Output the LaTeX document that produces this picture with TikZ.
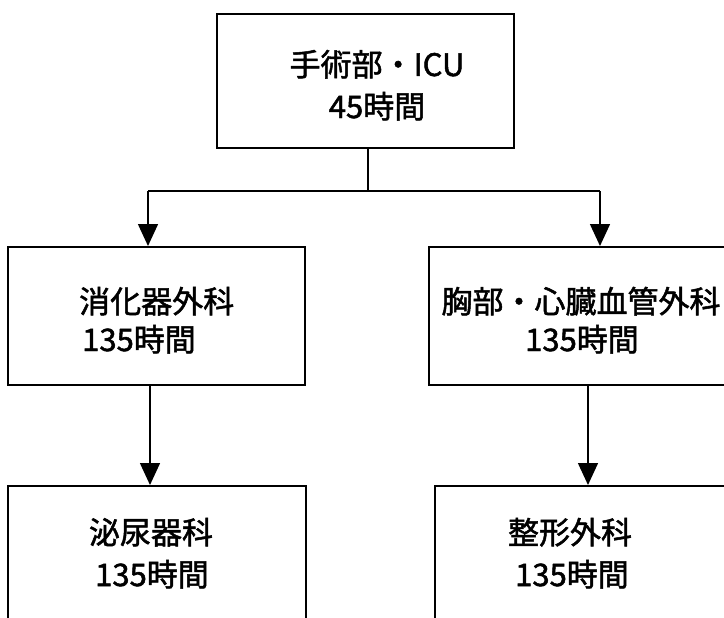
\documentclass[tikz,border=0pt]{standalone}
\usepackage{fontspec}
\setmainfont{Noto Sans CJK JP}[FakeBold=1.6]
\usetikzlibrary{arrows.meta}
\tikzset{
  box/.style={draw=black, line width=1.7pt, minimum width=#1, inner sep=0pt, anchor=north west},
  lbl/.style={inner sep=0pt, font=\fontsize{31}{31}\selectfont},
  conn/.style={draw=black, line width=1.5pt},
  arr/.style={conn, -{Triangle[width=20pt,length=22pt]}}
}
\begin{document}
\begin{tikzpicture}[x=1pt,y=-1pt]
\clip (0,0) rectangle (724,618);
\fill[white] (0,0) rectangle (724,618);
% boxes
\node[box=297pt, minimum height=134pt] (top) at (216,13) {};
\node[box=297pt, minimum height=138pt] (ml) at (7,246) {};
\node[box=320pt, minimum height=138pt] (mr) at (428,246) {};
\node[box=298pt, minimum height=160pt] (bl) at (7,485) {};
\node[box=310pt, minimum height=160pt] (br) at (434,485) {};
% texts
\node[lbl, anchor=base] (topa) at (377,76) {手術部・ICU};
\node[lbl, anchor=base] (topb) at (377,118) {45時間};
\node[lbl, anchor=base west] (mla) at (79,313) {消化器外科};
\node[lbl, anchor=base west] (mlb) at (82,351) {135時間};
\node[lbl, anchor=base] (mra) at (581,313) {胸部・心臓血管外科};
\node[lbl, anchor=base] (mrb) at (582,351) {135時間};
\node[lbl, anchor=base] (bla) at (151,544) {泌尿器科};
\node[lbl, anchor=base] (blb) at (152,586) {135時間};
\node[lbl, anchor=base] (bra) at (570,544) {整形外科};
\node[lbl, anchor=base] (brb) at (572,586) {135時間};
% connectors
\coordinate (j) at (368,191);
\coordinate (jl) at (148,191);
\coordinate (jr) at (600,191);
\coordinate (cl) at (150,0);
\coordinate (cr) at (588,0);
\draw[conn] (top.south -| j) -- (j);
\draw[conn] (jl) -- (jr);
\draw[arr] (jl) -- (jl |- ml.north);
\draw[arr] (jr) -- (jr |- mr.north);
\draw[arr] (ml.south -| cl) -- (bl.north -| cl);
\draw[arr] (mr.south -| cr) -- (br.north -| cr);
\end{tikzpicture}
\end{document}
